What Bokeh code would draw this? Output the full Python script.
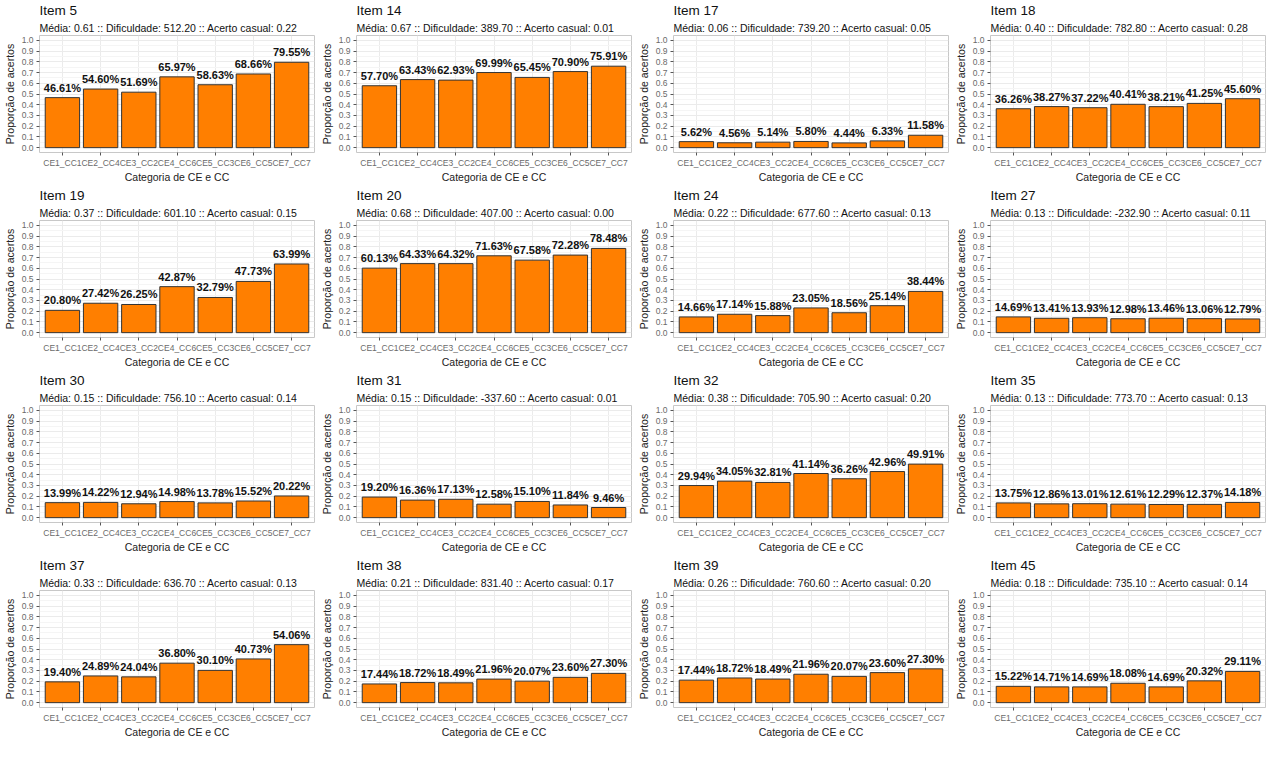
from bokeh.plotting import figure
from bokeh.layouts import gridplot
from bokeh.models import FactorRange, Range1d, Title, FixedTicker, PrintfTickFormatter, ColumnDataSource
from bokeh.core.properties import value
from bokeh.embed import file_html
from bokeh.resources import INLINE

categories = ["CE1_CC1", "CE2_CC4", "CE3_CC2", "CE4_CC6", "CE5_CC3", "CE6_CC5", "CE7_CC7"]

item_ids = [5, 14, 17, 18, 19, 20, 24, 27, 30, 31, 32, 35, 37, 38, 39, 45]
media = [0.61, 0.67, 0.06, 0.40, 0.37, 0.68, 0.22, 0.13, 0.15, 0.15, 0.38, 0.13, 0.33, 0.21, 0.26, 0.18]
dificuldade = [512.20, 389.70, 739.20, 782.80, 601.10, 407.00, 677.60, -232.90,
               756.10, -337.60, 705.90, 773.70, 636.70, 831.40, 760.60, 735.10]
acerto_casual = [0.22, 0.01, 0.05, 0.28, 0.15, 0.00, 0.13, 0.11, 0.14, 0.01, 0.20, 0.13, 0.13, 0.17, 0.20, 0.14]

# proportion of correct answers (%) per category
item5 = [46.61, 54.60, 51.69, 65.97, 58.63, 68.66, 79.55]
item14 = [57.70, 63.43, 62.93, 69.99, 65.45, 70.90, 75.91]
item17 = [5.62, 4.56, 5.14, 5.80, 4.44, 6.33, 11.58]
item18 = [36.26, 38.27, 37.22, 40.41, 38.21, 41.25, 45.60]
item19 = [20.80, 27.42, 26.25, 42.87, 32.79, 47.73, 63.99]
item20 = [60.13, 64.33, 64.32, 71.63, 67.58, 72.28, 78.48]
item24 = [14.66, 17.14, 15.88, 23.05, 18.56, 25.14, 38.44]
item27 = [14.69, 13.41, 13.93, 12.98, 13.46, 13.06, 12.79]
item30 = [13.99, 14.22, 12.94, 14.98, 13.78, 15.52, 20.22]
item31 = [19.20, 16.36, 17.13, 12.58, 15.10, 11.84, 9.46]
item32 = [29.94, 34.05, 32.81, 41.14, 36.26, 42.96, 49.91]
item35 = [13.75, 12.86, 13.01, 12.61, 12.29, 12.37, 14.18]
item37 = [19.40, 24.89, 24.04, 36.80, 30.10, 40.73, 54.06]
item38 = [17.44, 18.72, 18.49, 21.96, 20.07, 23.60, 27.30]
item39 = [21.0, 23.0, 22.0, 26.5, 24.5, 28.0, 31.5]
item45 = [15.22, 14.71, 14.69, 18.08, 14.69, 20.32, 29.11]

# label texts shown above the bars (item 39 repeats item 38's labels in the original)
item39_labels = [17.44, 18.72, 18.49, 21.96, 20.07, 23.60, 27.30]

bar_values = [item5, item14, item17, item18, item19, item20, item24, item27,
              item30, item31, item32, item35, item37, item38, item39, item45]
label_values = list(bar_values)
label_values[14] = item39_labels

y_ticks = [round(0.1 * i, 1) for i in range(11)]
y_minor = [round(0.05 + 0.1 * i, 2) for i in range(10)]

FONT = "Liberation Sans"
W, H = 317, 185

figs = []
for k, item in enumerate(item_ids):
    p = figure(
        x_range=FactorRange(factors=categories, range_padding=0.1, range_padding_units="absolute"),
        y_range=Range1d(-0.045, 1.045),
        width=W, height=H, output_backend="svg", toolbar_location=None, title=None,
        min_border_left=4, min_border_right=3, min_border_top=3, min_border_bottom=1,
    )
    sub = "Média: %.2f :: Dificuldade: %.2f :: Acerto casual:  %.2f" % (media[k], dificuldade[k], acerto_casual[k])
    p.add_layout(Title(text=sub, text_font=FONT, text_font_size="10.5px", text_font_style="normal",
                       text_color="#111111", align="left", standoff=4), "above")
    p.add_layout(Title(text="Item %d" % item, text_font=FONT, text_font_size="13.5px",
                       text_font_style="normal", text_color="#111111", align="left", standoff=0), "above")

    vals = [v / 100.0 for v in bar_values[k]]
    labs = ["%.2f%%" % v for v in label_values[k]]
    src = ColumnDataSource(dict(x=categories, top=vals, lab=labs))
    p.vbar(x="x", top="top", bottom=0, width=0.9, source=src,
           fill_color="#FF7F00", line_color="#333333", line_width=1)
    p.text(x="x", y="top", text="lab", source=src, text_align="center", text_baseline="bottom",
           y_offset=-4, text_font=value(FONT), text_font_style="bold", text_font_size="11px",
           text_color="#111111")

    p.background_fill_color = "white"
    p.border_fill_color = "white"
    p.outline_line_color = "#c8c8c8"
    p.outline_line_width = 1

    p.yaxis.ticker = FixedTicker(ticks=y_ticks, minor_ticks=y_minor)
    p.yaxis.formatter = PrintfTickFormatter(format="%.1f")
    for ax in (p.xaxis[0], p.yaxis[0]):
        ax.axis_line_color = None
        ax.major_tick_line_color = "#555555"
        ax.major_tick_out = 3
        ax.major_tick_in = 0
        ax.minor_tick_line_color = None
        ax.major_label_text_font = FONT
        ax.major_label_text_font_size = "8.5px"
        ax.major_label_text_color = "#6a6a6a"
        ax.major_label_standoff = 2
        ax.axis_label_text_font = FONT
        ax.axis_label_text_font_size = "10.5px"
        ax.axis_label_text_font_style = "normal"
        ax.axis_label_text_color = "#222222"
        ax.axis_label_standoff = 3
    p.xaxis.axis_label_standoff = 0
    p.xaxis.major_label_standoff = 2
    p.xaxis.axis_label = "Categoria de CE e CC"
    p.yaxis.axis_label = "Proporção de acertos"

    p.xgrid.grid_line_color = "#ebebeb"
    p.ygrid.grid_line_color = "#ebebeb"
    p.ygrid.minor_grid_line_color = "#f5f5f5"
    p.xgrid.grid_line_width = 1
    figs.append(p)

grid = gridplot(figs, ncols=4, toolbar_location=None)

open("out.html", "w").write(file_html(grid, INLINE))
